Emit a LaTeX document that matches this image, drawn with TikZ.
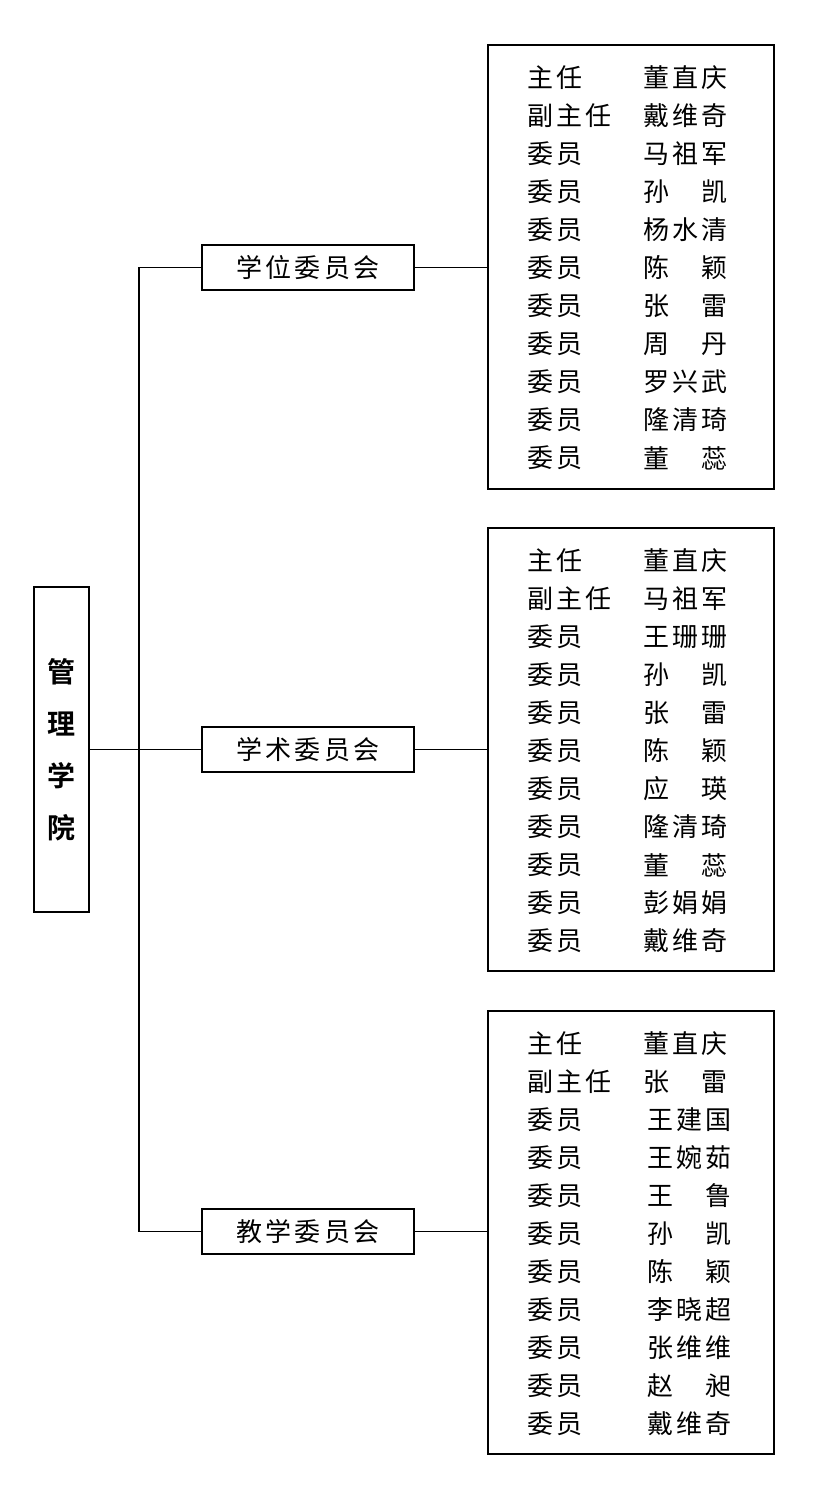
\documentclass[tikz,border=0pt]{standalone}
\usepackage{fontspec}
\newfontfamily\cjk[LetterSpace=12]{Noto Sans CJK SC}
\newfontfamily\cjkb[BoldFont={Noto Sans CJK SC Bold}]{Noto Sans CJK SC}
\tikzset{
  box/.style={draw, line width=1.6pt, inner sep=0pt},
  mid/.style={box, minimum width=212pt, minimum height=45pt, font=\cjk\fontsize{26}{26}\selectfont},
  row/.style={anchor=west, inner sep=0pt, font=\cjk\fontsize{26}{26}\selectfont},
  link/.style={line width=1.6pt}
}
\begin{document}
\begin{tikzpicture}[x=1pt,y=-1pt]
\useasboundingbox (0,0) rectangle (818,1500);

% root
\node[box, minimum width=55pt, minimum height=325pt, align=center,
  font=\cjkb\bfseries\fontsize{28}{52}\selectfont] (root) at (61.5,749.5) {管\\理\\学\\院};

% committees
\node[mid] (xw) at (308,267.5) {学位委员会};
\node[mid] (xs) at (308,749.5) {学术委员会};
\node[mid] (jx) at (308,1231.5) {教学委员会};

% member boxes
\node[box, minimum width=286pt, minimum height=444pt] (lw) at (631,267) {};
\node[box, minimum width=286pt, minimum height=443pt] (ls) at (631,749.5) {};
\node[box, minimum width=286pt, minimum height=443pt] (lj) at (631,1232.5) {};

% connectors
\coordinate (j) at (139,749.5);
\draw[link] (root.east) -- (j);
\draw[link] (xw.west) -| (139,749.5) |- (jx.west);
\draw[link] (xs.west) -- (j);
\draw[link] (xw.east) -- (xw.east -| lw.west);
\draw[link] (xs.east) -- (xs.east -| ls.west);
\draw[link] (jx.east) -- (jx.east -| lj.west);

% rows
\foreach \r/\n [count=\i from 0] in {主任/董直庆,副主任/戴维奇,委员/马祖军,委员/孙　凯,委员/杨水清,委员/陈　颖,委员/张　雷,委员/周　丹,委员/罗兴武,委员/隆清琦,委员/董　蕊}{
  \node[row] (wr\i) at (527,78+38*\i) {\r};
  \node[row] (wn\i) at (643,78+38*\i) {\n};
}
\foreach \r/\n [count=\i from 0] in {主任/董直庆,副主任/马祖军,委员/王珊珊,委员/孙　凯,委员/张　雷,委员/陈　颖,委员/应　瑛,委员/隆清琦,委员/董　蕊,委员/彭娟娟,委员/戴维奇}{
  \node[row] (sr\i) at (527,561+38*\i) {\r};
  \node[row] (sn\i) at (643,561+38*\i) {\n};
}
\foreach \r/\n/\dx [count=\i from 0] in {主任/董直庆/0,副主任/张　雷/0,委员/王建国/4,委员/王婉茹/4,委员/王　鲁/4,委员/孙　凯/4,委员/陈　颖/4,委员/李晓超/4,委员/张维维/4,委员/赵　昶/4,委员/戴维奇/4}{
  \node[row] (jr\i) at (527,1044+38*\i) {\r};
  \node[row] (jn\i) at (643+\dx,1044+38*\i) {\n};
}
\end{tikzpicture}
\end{document}
